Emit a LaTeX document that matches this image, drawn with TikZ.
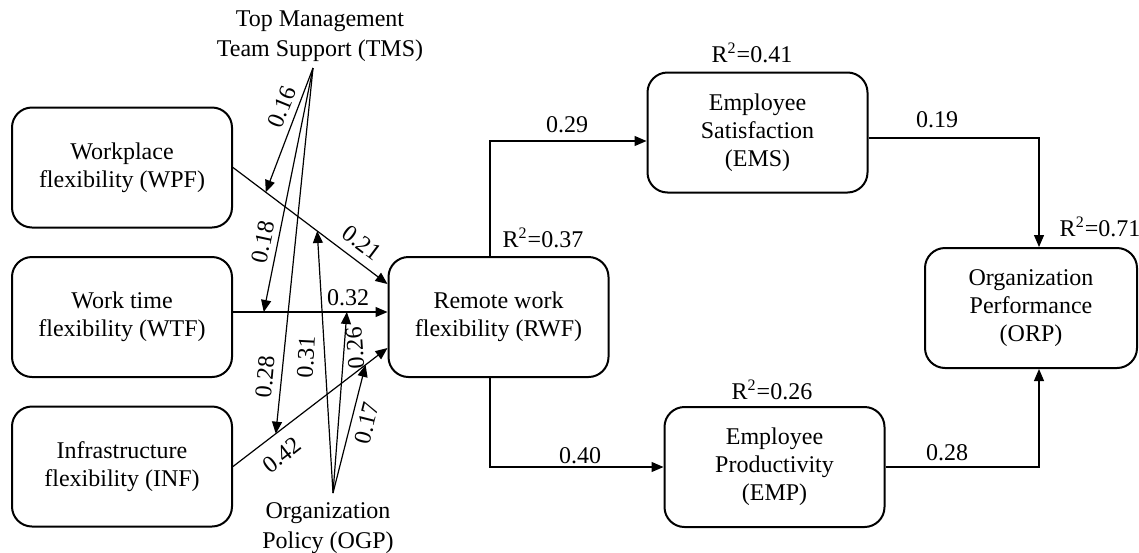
\documentclass[tikz,border=0pt]{standalone}
\usepackage{fontspec}
\setmainfont{Liberation Serif}
\usetikzlibrary{arrows.meta}
\begin{document}
\begin{tikzpicture}[x=0.5pt,y=-0.5pt,
  box/.style={draw, line width=1pt, rounded corners=10pt, minimum width=110pt,
    minimum height=60pt, align=center, inner sep=0pt, font=\fontsize{12}{14}\selectfont},
  lab/.style={font=\fontsize{12}{14}\selectfont, inner sep=0pt},
  ttl/.style={font=\fontsize{12}{15}\selectfont, inner sep=0pt, align=center},
  conn/.style={line width=0.6pt, -{Triangle[length=6pt,width=5pt]}}]
\useasboundingbox (0,0) rectangle (1139,552);
% boxes
\node[box] (WPF) at (122,167.5) {Workplace\\flexibility (WPF)};
\node[box] (WTF) at (122,317) {Work time\\flexibility (WTF)};
\node[box] (INF) at (122,466.5) {Infrastructure\\flexibility (INF)};
\node[box] (RWF) at (498.5,317) {Remote work\\flexibility (RWF)};
\node[box] (EMS) at (757.5,132.5) {Employee\\Satisfaction\\(EMS)};
\node[box] (EMP) at (774.5,467) {Employee\\Productivity\\(EMP)};
\node[box, minimum width=106pt] (ORP) at (1031,308) {Organization\\Performance\\(ORP)};
% moderators
\node[ttl] (TMS) at (320,36) {Top Management\\Team Support (TMS)};
\node[ttl] (OGP) at (328,528) {Organization\\Policy (OGP)};
\coordinate (tmsp) at (313,68);
\coordinate (ogpp) at (333,493);
\coordinate (yw) at (0,312);
% main paths
\draw[conn] (WPF.east) -- ([yshift=16.5pt]RWF.west)
  coordinate[pos=0.212] (m16) coordinate[pos=0.545] (m31);
\draw[conn] (WTF.east |- yw) -- (RWF.west |- yw)
  coordinate[pos=0.199] (m18) coordinate[pos=0.737] (m26);
\draw[conn] (INF.east) -- ([yshift=-15.5pt]RWF.west)
  coordinate[pos=0.277] (m28) coordinate[pos=0.858] (m17);
% moderator arrows
\draw[conn] (tmsp) -- (m16);
\draw[conn] (tmsp) -- (m18);
\draw[conn] (tmsp) -- (m28);
\draw[conn] (ogpp) -- (m31);
\draw[conn] (ogpp) -- (m26);
\draw[conn] (ogpp) -- (m17);
% outcome paths
\draw[conn] ([xshift=-4.25pt]RWF.north) |- ([yshift=-4.25pt]EMS.west);
\draw[conn] ([xshift=-4.25pt]RWF.south) |- (EMP.west);
\draw[conn] ([yshift=-2.75pt]EMS.east) -| ([xshift=4pt]ORP.north);
\draw[conn] (EMP.east) -| ([xshift=4pt]ORP.south);
% coefficient labels
\node[lab, rotate=68] (l16) at (282,107) {0.16};
\node[lab, rotate=78] (l18) at (263,242) {0.18};
\node[lab, rotate=85] (l28) at (265,377) {0.28};
\node[lab, rotate=87] (l31) at (306,357) {0.31};
\node[lab, rotate=94] (l26) at (355,348) {0.26};
\node[lab, rotate=76] (l17) at (367,423) {0.17};
\node[lab, rotate=-37] (l21) at (362,243) {0.21};
\node[lab] (l32) at (348,298) {0.32};
\node[lab, rotate=37.7] (l42) at (282,455) {0.42};
\node[lab] (l29) at (567,125) {0.29};
\node[lab] (l40) at (580,456) {0.40};
\node[lab] (l19) at (937,120) {0.19};
\node[lab] (l28b) at (947,453) {0.28};
% R squared
\node[lab] (r37) at (543,238) {R\textsuperscript{2}=0.37};
\node[lab] (r41) at (752,53) {R\textsuperscript{2}=0.41};
\node[lab] (r26) at (772,390) {R\textsuperscript{2}=0.26};
\node[lab] (r71) at (1100,227) {R\textsuperscript{2}=0.71};
\end{tikzpicture}
\end{document}
